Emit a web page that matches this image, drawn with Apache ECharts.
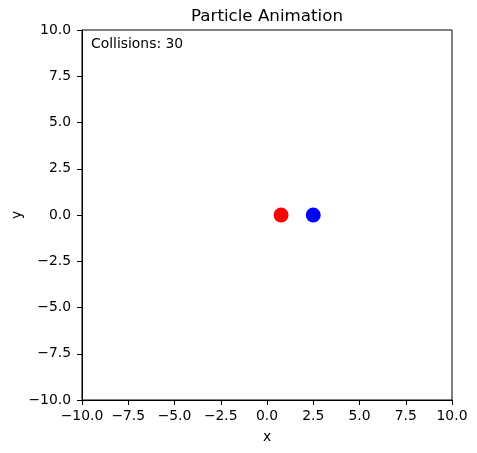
<!DOCTYPE html>
<html lang="en">
<head>
    <meta charset="UTF-8">
    <style>
        html, body { margin: 0; padding: 0; background: #fff; }
        #main { width: 477px; height: 453px; }
    </style>
    <title>Particle Animation</title>
</head>
<body>
    <div id="main"></div>
    <script src="https://cdn.jsdelivr.net/npm/echarts@6/dist/echarts.min.js"></script>
    <script>
        // particle positions (x, y) and colours
        var particleNames = ['p1', 'p2'];
        var particleX = [0.76, 2.5];
        var particleY = [0, 0];
        var particleColors = ['#ff0000', '#0000ff'];
        var collisions = 30;
        var axisTicks = [-10, -7.5, -5, -2.5, 0, 2.5, 5, 7.5, 10];

        var font = 'DejaVu Sans';
        var myChart = echarts.init(document.getElementById('main'));

        // matplotlib style tick text, with a real minus sign
        function tickText(v) {
            return v.toFixed(1).replace('-', '\u2212');
        }

        function axisOpt(name, isX) {
            return {
                type: 'value',
                min: axisTicks[0],
                max: axisTicks[axisTicks.length - 1],
                interval: 2.5,
                name: name,
                nameLocation: 'middle',
                nameGap: isX ? 30 : 58,
                nameMoveOverlap: false,
                nameTextStyle: { color: '#000', fontSize: 13.9, fontFamily: font },
                axisLine: { show: true, onZero: false, lineStyle: { color: '#000', width: 1 } },
                axisTick: { show: true, inside: false, length: 5, lineStyle: { color: '#000' } },
                axisLabel: {
                    color: '#000', fontSize: 13.9, fontFamily: font, margin: isX ? 9 : 11,
                    formatter: tickText
                },
                splitLine: { show: false }
            };
        }

        var option = {
            animation: false,
            grid: {
                left: 82, right: 25, top: 30, bottom: 53,
                containLabel: false, outerBoundsMode: 'none',
                show: true, borderColor: '#000', borderWidth: 1
            },
            xAxis: axisOpt('x', true),
            yAxis: axisOpt('y', false),
            graphic: [{
                type: 'text', x: 267, y: 8,
                style: {
                    text: 'Particle Animation', fill: '#000', fontSize: 16.7, fontFamily: font,
                    align: 'center', verticalAlign: 'top'
                }
            }, {
                type: 'text', left: 91, top: 37,
                style: { text: 'Collisions: ' + collisions, fill: '#000', fontSize: 13.9, fontFamily: font }
            }],
            series: particleNames.map(function (n, i) {
                return {
                    name: n, type: 'scatter', symbolSize: 15,
                    itemStyle: { color: particleColors[i], opacity: 1 },
                    data: [[particleX[i], particleY[i]]]
                };
            })
        };
        myChart.setOption(option);
    </script>
</body>
</html>
